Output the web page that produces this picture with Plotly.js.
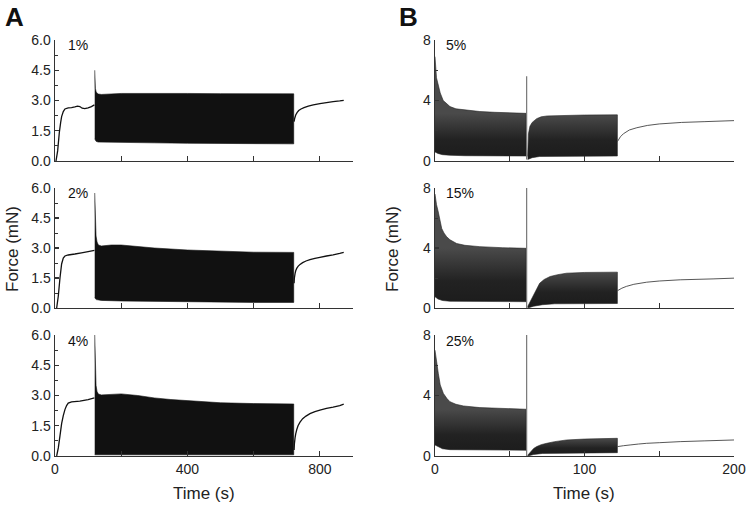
<!DOCTYPE html>
<html><head><meta charset="utf-8">
<script src="https://cdn.plot.ly/plotly-3.0.1.min.js"></script>
<style>html,body{margin:0;padding:0;background:#fff}#chart{width:746px;height:506px}</style>
</head><body><div id="chart"></div>
<script>
// ---------- Panel A, 1% ----------
const a1PreT = [3, 8, 13, 17, 20, 25, 30, 40, 50, 60, 68, 75, 82, 90, 100, 110, 119];
const a1PreF = [0, 0.5, 1.4, 1.9, 2.2, 2.45, 2.58, 2.63, 2.65, 2.68, 2.72, 2.7, 2.62, 2.6, 2.64, 2.7, 2.78];
const a1UpT = [120, 121, 122, 124, 127, 131, 140, 200, 300, 400, 500, 600, 700, 721];
const a1Up  = [4.5, 3.9, 3.6, 3.45, 3.36, 3.32, 3.3, 3.35, 3.36, 3.35, 3.34, 3.33, 3.33, 3.33];
const a1LoT = [120, 124, 130, 200, 300, 400, 500, 600, 721];
const a1Lo  = [1.1, 0.98, 0.94, 0.92, 0.9, 0.88, 0.86, 0.85, 0.85];
const a1RecT = [722, 724, 727, 731, 736, 743, 752, 765, 780, 800, 820, 840, 860, 872];
const a1RecF = [1.95, 2.12, 2.28, 2.4, 2.5, 2.58, 2.65, 2.72, 2.78, 2.85, 2.9, 2.94, 2.98, 3.01];
// ---------- Panel A, 2% ----------
const a2PreT = [5, 10, 15, 20, 25, 30, 40, 60, 80, 100, 119];
const a2PreF = [0, 0.6, 1.5, 2.2, 2.5, 2.6, 2.65, 2.7, 2.76, 2.82, 2.88];
const a2UpT = [120, 121, 122, 124, 127, 131, 140, 170, 200, 250, 300, 400, 500, 600, 721];
const a2Up  = [5.75, 4.6, 4.0, 3.6, 3.3, 3.15, 3.1, 3.15, 3.15, 3.08, 3.0, 2.9, 2.83, 2.79, 2.78];
const a2LoT = [120, 125, 140, 200, 300, 400, 500, 600, 721];
const a2Lo  = [0.5, 0.42, 0.38, 0.35, 0.32, 0.3, 0.29, 0.28, 0.28];
const a2RecT = [722, 723, 725, 727, 730, 734, 740, 748, 758, 770, 785, 800, 820, 840, 860, 872];
const a2RecF = [1.24, 1.5, 1.72, 1.86, 1.98, 2.08, 2.18, 2.27, 2.35, 2.42, 2.48, 2.53, 2.6, 2.66, 2.73, 2.78];
// ---------- Panel A, 4% ----------
const a3PreT = [5, 10, 15, 20, 25, 30, 35, 40, 50, 75, 100, 119];
const a3PreF = [0, 0.4, 1.0, 1.6, 2.0, 2.3, 2.5, 2.62, 2.68, 2.72, 2.8, 2.88];
const a3UpT = [120, 121, 122, 124, 127, 131, 140, 170, 200, 250, 300, 350, 400, 500, 600, 721];
const a3Up  = [6.0, 4.8, 4.0, 3.5, 3.2, 3.07, 3.03, 3.06, 3.08, 3.0, 2.88, 2.8, 2.74, 2.64, 2.6, 2.58];
const a3LoT = [120, 721];
const a3Lo  = [0.06, 0.06];
const a3RecT = [722, 723, 725, 727, 730, 734, 740, 748, 758, 770, 785, 800, 820, 840, 860, 872];
const a3RecF = [0.3, 0.6, 0.9, 1.1, 1.3, 1.5, 1.68, 1.85, 1.98, 2.1, 2.2, 2.28, 2.36, 2.42, 2.5, 2.57];

// ---------- Panel B, 5% ----------
const b1UpT = [0, 0.5, 1, 2, 3.5, 5.5, 8, 10, 14, 19, 25, 30, 40, 50, 61];
const b1Up  = [6.9, 6.0, 5.5, 5.1, 4.5, 4.0, 3.75, 3.6, 3.45, 3.38, 3.3, 3.27, 3.22, 3.18, 3.15];
const b1LoT = [0, 2, 5, 10, 20, 40, 61];
const b1Lo  = [0.6, 0.5, 0.42, 0.38, 0.35, 0.33, 0.33];
const b1JumpT = [61.3, 61.3];
const b1Jump  = [0.1, 5.6];
const b1Up2T = [62, 62.5, 63.5, 65, 68, 71, 75, 85, 100, 122];
const b1Up2  = [0.3, 1.8, 2.3, 2.55, 2.8, 2.92, 2.98, 3.02, 3.04, 3.05];
const b1Lo2T = [62, 65, 70, 122];
const b1Lo2  = [0.1, 0.22, 0.3, 0.33];
const b1RecT = [122, 124, 126, 130, 135, 142, 150, 165, 180, 200];
const b1RecF = [1.28, 1.6, 1.8, 2.05, 2.2, 2.35, 2.45, 2.55, 2.6, 2.67];
// ---------- Panel B, 15% ----------
const b2UpT = [0, 0.5, 1, 2.2, 3.3, 4.5, 6, 7.8, 10, 14.5, 20, 30, 45, 61];
const b2Up  = [7.6, 7.2, 6.9, 6.4, 5.8, 5.3, 5.0, 4.75, 4.55, 4.3, 4.18, 4.09, 4.02, 3.98];
const b2LoT = [0, 2, 5, 10, 20, 40, 61];
const b2Lo  = [0.75, 0.6, 0.5, 0.45, 0.43, 0.42, 0.42];
const b2JumpT = [61.3, 61.3];
const b2Jump  = [0, 8];
const b2Up2T = [62, 64, 66, 68, 70, 73, 77, 82, 88, 100, 122];
const b2Up2  = [0.1, 0.5, 0.9, 1.3, 1.65, 1.9, 2.1, 2.22, 2.32, 2.37, 2.39];
const b2Lo2T = [62, 66, 72, 80, 122];
const b2Lo2  = [0, 0.12, 0.22, 0.28, 0.3];
const b2RecT = [122, 125, 128, 133, 141.6, 150, 164, 186, 200];
const b2RecF = [1.15, 1.32, 1.44, 1.58, 1.72, 1.8, 1.88, 1.94, 1.99];
// ---------- Panel B, 25% ----------
const b3UpT = [0, 0.5, 1, 2.2, 3.5, 5.6, 8, 10, 14, 19, 30, 45, 61];
const b3Up  = [7.0, 6.6, 6.2, 5.47, 4.7, 4.14, 3.8, 3.59, 3.42, 3.31, 3.2, 3.13, 3.09];
const b3LoT = [0, 2, 5, 10, 20, 40, 61];
const b3Lo  = [0.73, 0.6, 0.48, 0.42, 0.4, 0.38, 0.38];
const b3JumpT = [61.3, 61.3];
const b3Jump  = [0, 8];
const b3Up2T = [62, 64, 66, 68, 71, 74.7, 80, 88, 100, 122];
const b3Up2  = [0.05, 0.3, 0.5, 0.62, 0.75, 0.84, 0.95, 1.06, 1.12, 1.17];
const b3Lo2T = [62, 66, 72, 122];
const b3Lo2  = [0, 0.1, 0.17, 0.22];
const b3RecT = [122, 126, 130.5, 136, 141.6, 150, 164, 180, 200];
const b3RecF = [0.62, 0.68, 0.73, 0.79, 0.84, 0.88, 0.95, 1.0, 1.06];

// ---------- axis tick labels ----------
const aYTicks = [0, 1.5, 3, 4.5, 6];
const aYText = ['0.0', '1.5', '3.0', '4.5', '6.0'];
const bYTicks = [0, 4, 8];
const bYText = ['0', '4', '8'];
const aXTicks = [0, 200, 400, 600, 800];
const aXText = ['0', '', '400', '', '800'];
const bXTicks = [0, 50, 100, 150, 200];
const bXText = ['0', '', '100', '', '200'];
const panelLabels = ['1%', '2%', '4%', '5%', '15%', '25%'];

const W = 746, H = 506;
const FONT = 'Liberation Sans, Arial, sans-serif';

function line(ax, t, f, color, width) {
  return {type: 'scatter', mode: 'lines', x: t, y: f, xaxis: 'x' + ax, yaxis: 'y' + ax,
    line: {color: color, width: width, simplify: false}, hoverinfo: 'skip', showlegend: false};
}
function band(ax, tUp, up, tLo, lo, color, grad) {
  const tr = {type: 'scatter', mode: 'lines', fill: 'toself', fillcolor: color,
    x: tUp.concat(tLo.slice().reverse()), y: up.concat(lo.slice().reverse()),
    xaxis: 'x' + ax, yaxis: 'y' + ax, line: {color: color, width: 0.6},
    hoverinfo: 'skip', showlegend: false};
  if (grad) {
    tr.fillgradient = {type: 'vertical', start: 0, stop: up[up.length - 1],
      colorscale: [[0, '#1b1b1b'], [0.45, '#222222'], [1, '#4a4a4a']]};
  }
  return tr;
}

const AC = '#111111', BC = '#242424';
const traces = [
  line('', a1PreT, a1PreF, '#111', 1.3), band('', a1UpT, a1Up, a1LoT, a1Lo, AC), line('', a1RecT, a1RecF, '#111', 1.3),
  line('3', a2PreT, a2PreF, '#111', 1.3), band('3', a2UpT, a2Up, a2LoT, a2Lo, AC), line('3', a2RecT, a2RecF, '#111', 1.3),
  line('5', a3PreT, a3PreF, '#111', 1.3), band('5', a3UpT, a3Up, a3LoT, a3Lo, AC), line('5', a3RecT, a3RecF, '#111', 1.3),
  band('2', b1UpT, b1Up, b1LoT, b1Lo, BC, true), line('2', b1JumpT, b1Jump, '#777', 1.2),
  band('2', b1Up2T, b1Up2, b1Lo2T, b1Lo2, BC, true), line('2', b1RecT, b1RecF, '#444', 0.9),
  band('4', b2UpT, b2Up, b2LoT, b2Lo, BC, true), line('4', b2JumpT, b2Jump, '#777', 1.2),
  band('4', b2Up2T, b2Up2, b2Lo2T, b2Lo2, BC, true), line('4', b2RecT, b2RecF, '#444', 0.9),
  band('6', b3UpT, b3Up, b3LoT, b3Lo, BC, true), line('6', b3JumpT, b3Jump, '#777', 1.2),
  band('6', b3Up2T, b3Up2, b3Lo2T, b3Lo2, BC, true), line('6', b3RecT, b3RecF, '#444', 0.9)
];

const xA = [55 / W, 353 / W], xB = [435 / W, 734 / W];
const rows = [[161, 40], [308, 188], [456, 335]];
const yDom = rows.map(r => [1 - r[0] / H, 1 - r[1] / H]);

const tickFont = {family: FONT, size: 14, color: '#222'};
function xAxis(isA, row) {
  const n = row * 2 + (isA ? 1 : 2);
  return {domain: isA ? xA : xB, anchor: 'y' + (n === 1 ? '' : n),
    range: isA ? [0, 900] : [0, 200], showline: true, linecolor: '#333', linewidth: 1.4,
    showgrid: false, zeroline: false, ticks: 'inside', ticklen: 5, tickwidth: 1.2, tickcolor: '#333',
    tickmode: 'array', tickvals: isA ? aXTicks : bXTicks,
    ticktext: row === 2 ? (isA ? aXText : bXText) : (isA ? aXTicks : bXTicks).map(() => ''),
    tickfont: tickFont, fixedrange: true};
}
function yAxis(isA, row) {
  const n = row * 2 + (isA ? 1 : 2);
  return {domain: yDom[row], anchor: 'x' + (n === 1 ? '' : n),
    range: isA ? [0, 6] : [0, 8], showline: true, linecolor: '#333', linewidth: 1.4,
    showgrid: false, zeroline: false, ticks: 'inside', ticklen: 4, tickwidth: 1.2, tickcolor: '#333',
    tickmode: 'array', tickvals: isA ? aYTicks : bYTicks, ticktext: isA ? aYText : bYText,
    minor: {ticks: 'inside', ticklen: 2.5, tickwidth: 1, tickcolor: '#333', dtick: isA ? 0.75 : 2, tick0: 0, showgrid: false},
    tickfont: tickFont, fixedrange: true};
}

const layout = {width: W, height: H, margin: {l: 0, r: 0, t: 0, b: 0},
  paper_bgcolor: '#fff', plot_bgcolor: '#fff', showlegend: false, font: {family: FONT},
  annotations: []};
for (let r = 0; r < 3; r++) {
  const nA = r * 2 + 1, nB = r * 2 + 2;
  layout['xaxis' + (nA === 1 ? '' : nA)] = xAxis(true, r);
  layout['yaxis' + (nA === 1 ? '' : nA)] = yAxis(true, r);
  layout['xaxis' + nB] = xAxis(false, r);
  layout['yaxis' + nB] = yAxis(false, r);
}
const ann = (text, x, y, opts) => Object.assign({text: text, x: x / W, y: 1 - y / H, xref: 'paper', yref: 'paper',
  showarrow: false, xanchor: 'left', yanchor: 'middle', font: {family: FONT, size: 14, color: '#111'}}, opts || {});
const labY = [45, 193, 341];
for (let r = 0; r < 3; r++) {
  layout.annotations.push(ann(panelLabels[r], 66, labY[r]));
  layout.annotations.push(ann(panelLabels[r + 3], 444, labY[r]));
}
const titleFont = {family: FONT, size: 17, color: '#222'};
layout.annotations.push(ann('<b>A</b>', 3, 17, {font: {family: FONT, size: 26, color: '#111'}}));
layout.annotations.push(ann('<b>B</b>', 397, 17, {font: {family: FONT, size: 26, color: '#111'}}));
layout.annotations.push(ann('Force (mN)', 12, 249, {xanchor: 'center', textangle: -90, font: titleFont}));
layout.annotations.push(ann('Force (mN)', 392, 249, {xanchor: 'center', textangle: -90, font: titleFont}));
layout.annotations.push(ann('Time (s)', 204, 493, {xanchor: 'center', font: titleFont}));
layout.annotations.push(ann('Time (s)', 584, 493, {xanchor: 'center', font: titleFont}));

Plotly.newPlot('chart', traces, layout, {staticPlot: true, displayModeBar: false});
</script></body></html>
